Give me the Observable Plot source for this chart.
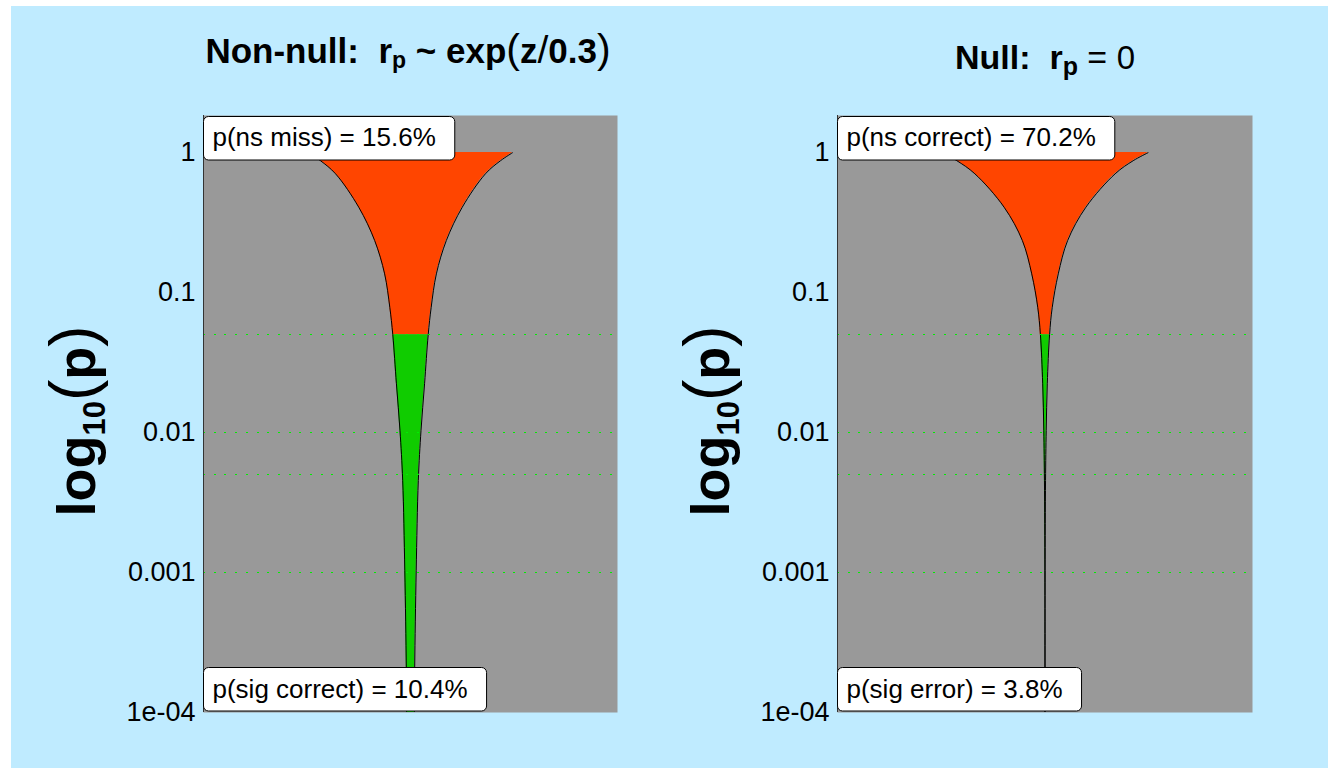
<!DOCTYPE html>
<html>
<head>
<meta charset="utf-8">
<script src="https://cdn.jsdelivr.net/npm/d3@7"></script>
<script src="https://cdn.jsdelivr.net/npm/@observablehq/plot@0.6"></script>
<style>
  html, body { margin: 0; padding: 0; background: #ffffff; }
  #page { position: relative; width: 1328px; height: 768px; overflow: hidden; background: #ffffff;
          font-family: "Liberation Sans", Arial, sans-serif; }
  #bg { position: absolute; left: 11px; top: 6px; right: 0; bottom: 0; background: #bfebff; }
  #overlay { position: absolute; left: 0; top: 0; }
  .panel { position: absolute; top: 100px; }
  #overlay text { white-space: pre; fill: #000; font-family: "Liberation Sans", Arial, sans-serif; }
</style>
</head>
<body>
<div id="page">
  <div id="bg"></div>
  <svg id="overlay" width="1328" height="768">
    <text x="408" y="63" text-anchor="middle" font-size="35" font-weight="bold">Non-null:  r<tspan font-size="23" dy="5">p</tspan><tspan dy="-5"> ~ exp</tspan><tspan font-weight="normal" font-size="41">(</tspan>z<tspan font-weight="normal" font-size="39">/</tspan>0.3<tspan font-weight="normal" font-size="41">)</tspan></text>
    <text x="1045" y="68.5" text-anchor="middle" font-size="34" font-weight="bold">Null:  r<tspan font-size="25" dy="6">p</tspan><tspan dy="-6" font-weight="normal"> = </tspan><tspan font-weight="normal" font-size="33">0</tspan></text>
    <text transform="translate(95,421) rotate(-90)" text-anchor="middle" font-size="54" font-weight="bold">log<tspan font-size="31" dy="10">10</tspan><tspan dy="-10" font-weight="normal" font-size="64">(</tspan>p<tspan font-weight="normal" font-size="64">)</tspan></text>
    <text transform="translate(729,421) rotate(-90)" text-anchor="middle" font-size="54" font-weight="bold">log<tspan font-size="31" dy="10">10</tspan><tspan dy="-10" font-weight="normal" font-size="64">(</tspan>p<tspan font-weight="normal" font-size="64">)</tspan></text>
  </svg>
  <div id="p1" class="panel" style="left:0px"></div>
  <div id="p2" class="panel" style="left:650px"></div>
</div>
<script>
// ---- data ----
// p-value levels (y) at which the violin half-widths were read
const pValues      = [1, 0.875, 0.705, 0.407, 0.235, 0.136, 0.0785, 0.05, 0.0223, 0.0103, 0.00454, 0.00103, 0.00021, 0.0001];
// half-width of the violin (relative density) for the non-null panel
const nonNullWidth = [0.494, 0.435, 0.362, 0.250, 0.173, 0.125, 0.100, 0.0855, 0.068, 0.0507, 0.0377, 0.0275, 0.0203, 0.019];
// half-width of the violin for the null panel
const nullWidth    = [0.498, 0.425, 0.338, 0.197, 0.109, 0.064, 0.035, 0.022, 0.011, 0.0058, 0.0026, 0.0006, 0.00012, 0.00006];
const alpha = 0.05;
const gridP = [0.05, 0.01, 0.005, 0.001];
const tickP = [1, 0.1, 0.01, 0.001, 0.0001];
const tickLabels = ["1", "0.1", "0.01", "0.001", "1e-04"];
const topLabels = ["p(ns miss) = 15.6%", "p(ns correct) = 70.2%"];
const bottomLabels = ["p(sig correct) = 10.4%", "p(sig error) = 3.8%"];

const W = 650, H = 640, MT = 15, MB = 28;
const tickMap = new Map(tickP.map((p, i) => [p, tickLabels[i]]));

function panel(widths, topLabel, bottomLabel, marginLeft, marginRight) {
  const rows = pValues.map((p, i) => ({p, w: widths[i]}));
  const upper = rows.filter(d => d.p >= alpha);
  const lower = rows.filter(d => d.p <= alpha);
  return Plot.plot({
    width: W, height: H,
    marginLeft, marginRight, marginTop: MT, marginBottom: MB,
    style: {background: "transparent", fontFamily: "Liberation Sans, Arial, sans-serif", color: "#000"},
    x: {domain: [-1, 1], axis: null},
    y: {type: "log", domain: [1e-4, 1.84]},
    marks: [
      Plot.frame({fill: "#999999", stroke: null}),
      Plot.areaX(upper, {y: "p", x1: d => -d.w, x2: d => d.w, fill: "#ff4500", curve: "catmull-rom", clip: true}),
      Plot.areaX(lower, {y: "p", x1: d => -d.w, x2: d => d.w, fill: "#10cc00", curve: "catmull-rom", clip: true}),
      Plot.line(rows, {x: d => -d.w, y: "p", stroke: "#000", strokeWidth: 1, strokeLinecap: "butt", curve: "catmull-rom", clip: true}),
      Plot.line(rows, {x: d => d.w, y: "p", stroke: "#000", strokeWidth: 1, strokeLinecap: "butt", curve: "catmull-rom", clip: true}),
      Plot.ruleY(gridP, {stroke: "#00ee00", strokeWidth: 1, strokeDasharray: "2,8.7", shapeRendering: "crispEdges"}),
      Plot.ruleX([-1], {stroke: "#333333", strokeWidth: 1}),
      Plot.axisY({ticks: tickP, tickFormat: d => tickMap.get(d), tickSize: 0, tickPadding: 8, fontSize: 27, label: null}),
      Plot.text([topLabel], {text: d => d, frameAnchor: "top-left", dx: 9, dy: 21.7, textAnchor: "start", lineAnchor: "middle", fontSize: 26, fill: "#000"}),
      Plot.text([bottomLabel], {text: d => d, frameAnchor: "bottom-left", dx: 9, dy: -23.3, textAnchor: "start", lineAnchor: "middle", fontSize: 26, fill: "#000"})
    ]
  });
}

// white rounded label boxes sized to the rendered label text
function addBoxes(svg, plotLeft) {
  const ns = "http://www.w3.org/2000/svg";
  const sr = svg.getBoundingClientRect();
  const plotTop = MT, plotBottom = H - MB;
  const groups = svg.querySelectorAll('g[aria-label="text"]');
  groups.forEach((g, i) => {
    const t = g.querySelector("text");
    const r = t.getBoundingClientRect();
    const right = r.right - sr.left + 19;
    const x0 = plotLeft + 0.5;
    const y0 = i === 0 ? plotTop + 1.5 : plotBottom - 44.5;
    const rect = document.createElementNS(ns, "rect");
    rect.setAttribute("x", x0);
    rect.setAttribute("y", y0);
    rect.setAttribute("width", right - x0);
    rect.setAttribute("height", 43.5);
    rect.setAttribute("rx", 5);
    rect.setAttribute("fill", "#ffffff");
    rect.setAttribute("stroke", "#000");
    rect.setAttribute("stroke-width", 1);
    g.parentNode.insertBefore(rect, g);
  });
}

const c1 = panel(nonNullWidth, topLabels[0], bottomLabels[0], 203, 33);
const c2 = panel(nullWidth, topLabels[1], bottomLabels[1], 187, 48);
document.getElementById("p1").append(c1);
document.getElementById("p2").append(c2);
addBoxes(c1, 203);
addBoxes(c2, 187);
</script>
</body>
</html>
